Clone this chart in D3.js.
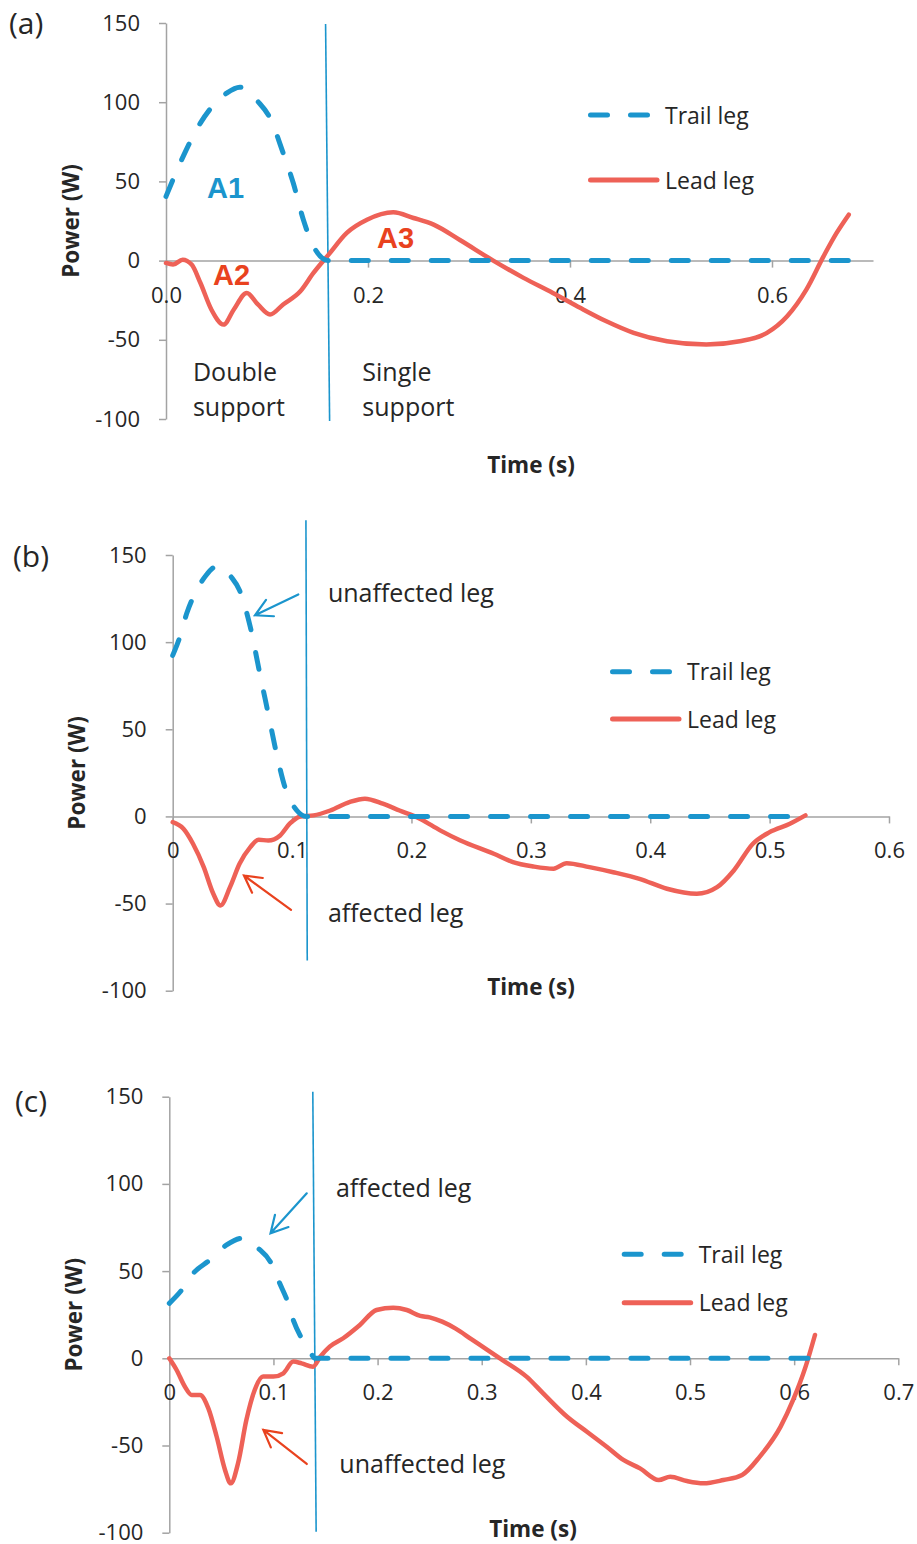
<!DOCTYPE html>
<html>
<head>
<meta charset="utf-8">
<script src="https://cdn.jsdelivr.net/npm/d3@7"></script>
<style>
  body { margin: 0; background: #fff; }
  svg { display: block; }
  text { font-family: "Open Sans", "DejaVu Sans", sans-serif; fill: #262626; }
  .axis path, .axis line { stroke: #a3a3a3; stroke-width: 1.5; }
  .axis text { font-size: 22px; fill: #262626; }
  .title { font-weight: bold; font-size: 22.5px; }
</style>
</head>
<body>
<svg id="chart" width="917" height="1544"></svg>
<script>
// (a) time (s), power (W)
var trailA = [[0,40.5],[0.0155,63.7],[0.034,86.8],[0.06,105.7],[0.073,109.5],[0.091,100.4],[0.103,90],
  [0.116,67.9],[0.126,49],[0.136,25.8],[0.146,9],[0.161,0],[0.676,0]];
var leadA = [[0,-1.5],[0.007,-2.5],[0.0165,0.6],[0.0254,-2.5],[0.034,-14],[0.045,-31],[0.057,-40.4],
  [0.067,-31],[0.08,-20.4],[0.091,-27.7],[0.103,-34],[0.116,-27.7],[0.133,-19.4],[0.146,-7.8],
  [0.161,3.8],[0.179,17.5],[0.199,25.8],[0.225,30.5],[0.245,26.9],[0.265,22.7],[0.291,13],
  [0.324,0],[0.354,-10.9],[0.383,-20.4],[0.41,-29.8],[0.436,-38.3],[0.463,-45.6],[0.496,-50.9],
  [0.535,-53],[0.568,-50.9],[0.595,-45.6],[0.615,-35.1],[0.634,-18.3],[0.651,2.7],[0.664,17.5],[0.676,29]];
var phaseA = [[0.158,149.4],[0.162,-101.3]];

// (b)
var trailB = [[0,92.4],[0.006,103],[0.0117,116.4],[0.02,129.7],[0.028,138.4],[0.037,143.5],[0.049,137.4],
  [0.056,129.7],[0.065,108.7],[0.073,81.9],[0.08,59],[0.087,36],[0.094,16.8],[0.104,3.4],[0.112,0],[0.53,0]];
var leadB = [[0,-3.3],[0.009,-7.1],[0.017,-15.7],[0.026,-29.1],[0.034,-44.4],[0.04,-51.1],[0.048,-40.6],
  [0.056,-27.2],[0.065,-17.6],[0.072,-13.4],[0.08,-13.8],[0.09,-10.9],[0.098,-4.2],[0.107,0],[0.118,0.6],
  [0.132,3.4],[0.148,8.2],[0.161,10.2],[0.176,7.3],[0.19,3.4],[0.207,-1.3],[0.224,-8],[0.241,-13.8],
  [0.269,-21.4],[0.285,-26.2],[0.302,-28.7],[0.319,-30],[0.33,-26.8],[0.349,-29.1],[0.369,-32],
  [0.391,-35.8],[0.414,-41.5],[0.439,-44.4],[0.456,-40.6],[0.47,-31],[0.486,-15.7],[0.5,-9],
  [0.517,-4.2],[0.53,0.6]];
var phaseB = [[0.1116,170],[0.1127,-82.7]];

// (c)
var trailC = [[0,31.5],[0.012,39.2],[0.023,48.7],[0.039,56.4],[0.055,65],[0.07,68.8],[0.0855,63],
  [0.097,55.4],[0.106,43],[0.113,33.4],[0.119,22],[0.127,11.5],[0.135,3.8],[0.14,0],[0.622,0]];
var leadC = [[0,0],[0.007,-6.7],[0.015,-16.3],[0.0215,-21],[0.0295,-21],[0.0375,-28.7],[0.0455,-45],
  [0.0535,-64],[0.059,-71.7],[0.066,-60.2],[0.074,-35.4],[0.082,-18.2],[0.09,-10.5],[0.0999,-10.5],
  [0.1095,-8.6],[0.119,-1.9],[0.127,-2.9],[0.138,-4.8],[0.145,0.9],[0.154,6.7],[0.167,11.5],
  [0.183,19.1],[0.199,27.7],[0.215,29],[0.228,27.7],[0.241,24.3],[0.25,23.5],[0.262,21],
  [0.275,17],[0.29,11],[0.305,5],[0.32,-1],[0.343,-10.5],[0.359,-20.1],[0.382,-33.5],[0.401,-42.1],
  [0.42,-50.7],[0.436,-58.3],[0.452,-63.1],[0.47,-69.8],[0.481,-67.9],[0.497,-70.4],[0.513,-71.7],
  [0.532,-69.8],[0.55,-66.9],[0.567,-56.4],[0.587,-39.2],[0.599,-23.9],[0.611,-4.8],[0.62,13.4]];
var phaseC = [[0.1378,152.9],[0.141,-99.4]];

// tick labels
var yTicks = [-100, -50, 0, 50, 100, 150];
var xTicksA = [0, 0.2, 0.4, 0.6];
var xTicksB = [0, 0.1, 0.2, 0.3, 0.4, 0.5, 0.6];
var xTicksC = [0, 0.1, 0.2, 0.3, 0.4, 0.5, 0.6, 0.7];
var legendNames = ["Trail leg", "Lead leg"];

var blue = "#1b95cd";
var red = "#ee6157";
var annRed = "#e9421e";

var svg = d3.select("#chart");

var panels = [
  { tag: "(a)", tagPos: [9, 34], trail: trailA, lead: leadA, phase: phaseA,
    xMax: 0.7, xTicks: xTicksA, xFmt: d3.format(".1f"),
    xRange: [166, 873], yRange: [419, 23],
    xTitle: [531, 473], legend: [588, 115, 180],
    labels: [
      {t: 0.0406, v: 39.7, s: "A1", c: blue, big: true},
      {t: 0.0465, v: -15.1, s: "A2", c: annRed, big: true},
      {t: 0.2089, v: 8.2, s: "A3", c: annRed, big: true},
      {t: 0.0267, v: -76.3, s: "Double"},
      {t: 0.0267, v: -98.4, s: "support"},
      {t: 0.1944, v: -76.3, s: "Single"},
      {t: 0.1944, v: -98.4, s: "support"}
    ],
    arrows: [] },
  { tag: "(b)", tagPos: [13, 567], trail: trailB, lead: leadB, phase: phaseB,
    xMax: 0.6, xTicks: xTicksB, xFmt: d => d === 0 ? "0" : d3.format(".1f")(d),
    xRange: [172.7, 889], yRange: [990.7, 555],
    xTitle: [531, 995], legend: [610, 671.7, 719],
    labels: [
      {t: 0.130, v: 123, s: "unaffected leg"},
      {t: 0.130, v: -60.7, s: "affected leg"}
    ],
    arrows: [
      {from: [0.1052, 127.4], to: [0.0689, 115.4], c: blue},
      {from: [0.0991, -53.6], to: [0.0597, -33.9], c: annRed}
    ] },
  { tag: "(c)", tagPos: [15, 1112], trail: trailC, lead: leadC, phase: phaseC,
    xMax: 0.7, xTicks: xTicksC, xFmt: d => d === 0 ? "0" : d3.format(".1f")(d),
    xRange: [169.3, 898.3], yRange: [1532.7, 1096.7],
    xTitle: [533, 1537], legend: [621.7, 1254.3, 1302.7],
    labels: [
      {t: 0.160, v: 92.7, s: "affected leg"},
      {t: 0.1633, v: -65.9, s: "unaffected leg"}
    ],
    arrows: [
      {from: [0.132, 94.6], to: [0.0972, 71.7], c: blue},
      {from: [0.132, -60.6], to: [0.0903, -41.1], c: annRed}
    ] }
];

panels.forEach(drawPanel);

function drawPanel(p) {
  var x = d3.scaleLinear().domain([0, p.xMax]).range(p.xRange);
  var y = d3.scaleLinear().domain([-100, 150]).range(p.yRange);
  var g = svg.append("g");

  // y axis (plain hyphen for negatives, like the source)
  var yAxis = d3.axisLeft(y).tickValues(yTicks).tickFormat(d => String(d))
    .tickSize(7).tickSizeOuter(0).tickPadding(19);
  g.append("g")
    .attr("class", "axis")
    .attr("transform", "translate(" + x(0) + ",0)")
    .call(yAxis);

  // x axis on the zero line
  var xAxis = d3.axisBottom(x).tickValues(p.xTicks).tickFormat(p.xFmt).tickSize(7).tickSizeOuter(0);
  var xg = g.append("g")
    .attr("class", "axis")
    .attr("transform", "translate(0," + y(0) + ")")
    .call(xAxis);
  xg.selectAll(".tick text").attr("y", 42).attr("dy", null);

  // titles
  g.append("text")
    .attr("class", "title")
    .attr("text-anchor", "middle")
    .attr("dominant-baseline", "central")
    .attr("transform", "translate(" + (x(0) - 96) + "," + (p.yRange[0] + p.yRange[1]) / 2 + ") rotate(-90)")
    .text("Power (W)");
  g.append("text")
    .attr("class", "title")
    .attr("text-anchor", "middle")
    .attr("x", p.xTitle[0]).attr("y", p.xTitle[1])
    .text("Time (s)");
  g.append("text")
    .attr("x", p.tagPos[0]).attr("y", p.tagPos[1])
    .style("font-size", "30px")
    .text(p.tag);

  // phase boundary
  g.append("line")
    .attr("x1", x(p.phase[0][0])).attr("y1", y(p.phase[0][1]))
    .attr("x2", x(p.phase[1][0])).attr("y2", y(p.phase[1][1]))
    .attr("stroke", blue).attr("stroke-width", 1.6);

  var line = d3.line()
    .x(d => x(d[0]))
    .y(d => y(d[1]))
    .curve(d3.curveMonotoneX);

  g.append("path")
    .datum(p.lead)
    .attr("d", line)
    .attr("fill", "none")
    .attr("stroke", red)
    .attr("stroke-width", 4.5)
    .attr("stroke-linejoin", "round")
    .attr("stroke-linecap", "round");

  g.append("path")
    .datum(p.trail)
    .attr("d", line)
    .attr("fill", "none")
    .attr("stroke", blue)
    .attr("stroke-width", 5)
    .attr("stroke-dasharray", "17 23")
    .attr("stroke-linecap", "round");

  // legend
  var lx = p.legend[0];
  g.append("line")
    .attr("x1", lx + 2.5).attr("x2", lx + 59.5)
    .attr("y1", p.legend[1]).attr("y2", p.legend[1])
    .attr("stroke", blue).attr("stroke-width", 5)
    .attr("stroke-dasharray", "17 23").attr("stroke-linecap", "round");
  g.append("line")
    .attr("x1", lx + 2.5).attr("x2", lx + 69)
    .attr("y1", p.legend[2]).attr("y2", p.legend[2])
    .attr("stroke", red).attr("stroke-width", 5).attr("stroke-linecap", "round");
  g.selectAll(".leg")
    .data(legendNames)
    .enter().append("text")
      .attr("x", lx + 77)
      .attr("y", (d, i) => p.legend[i + 1] + 8.5)
      .style("font-size", "23px")
      .text(d => d);

  // annotation text
  g.selectAll(".lab")
    .data(p.labels)
    .enter().append("text")
      .attr("x", d => x(d.t))
      .attr("y", d => y(d.v))
      .style("font-size", d => d.big ? "29px" : "25px")
      .style("font-weight", d => d.big ? "bold" : null)
      .style("font-family", d => d.big ? "'Liberation Sans', Arial, sans-serif" : null)
      .style("fill", d => d.c || "#262626")
      .text(d => d.s);

  // arrows with open heads
  p.arrows.forEach(function(a) {
    var x1 = x(a.from[0]), y1 = y(a.from[1]);
    var x2 = x(a.to[0]), y2 = y(a.to[1]);
    var ang = Math.atan2(y2 - y1, x2 - x1);
    var L = 19, spread = 0.5;
    var path = d3.path();
    path.moveTo(x1, y1);
    path.lineTo(x2, y2);
    path.moveTo(x2 - L * Math.cos(ang - spread), y2 - L * Math.sin(ang - spread));
    path.lineTo(x2, y2);
    path.lineTo(x2 - L * Math.cos(ang + spread), y2 - L * Math.sin(ang + spread));
    g.append("path")
      .attr("d", path.toString())
      .attr("fill", "none")
      .attr("stroke", a.c)
      .attr("stroke-width", 2.2)
      .attr("stroke-linecap", "round");
  });
}
</script>
</body>
</html>
